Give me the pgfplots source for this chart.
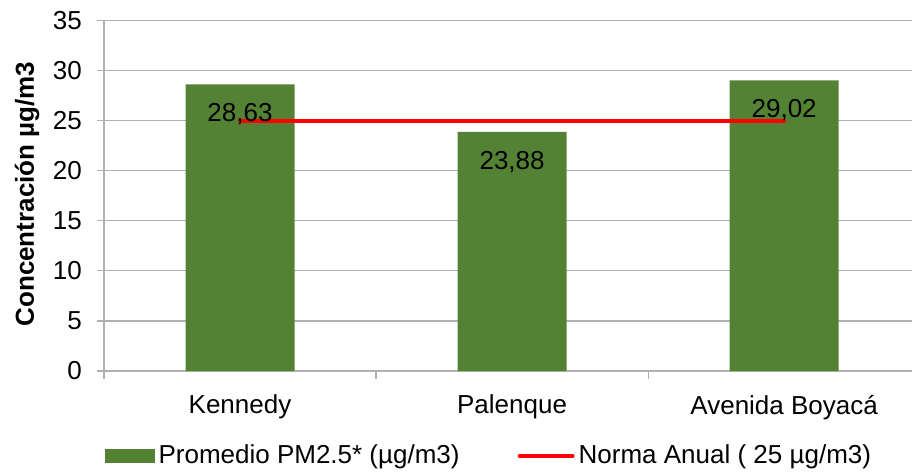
\documentclass[border=0pt]{standalone}
\usepackage{fontspec}
\setmainfont{Liberation Sans}
\usepackage{pgfplots}
\pgfplotsset{compat=1.18}
\definecolor{barGreen}{RGB}{84,130,53}
\definecolor{gridGray}{RGB}{176,176,176}

\begin{document}
\begin{tikzpicture}
\begin{axis}[
    scale only axis,
    width=404pt, height=175.25pt,
    font=\fontsize{13}{15}\selectfont,
    /pgf/number format/assume math mode=true,
    xmin=-0.5, xmax=2.47,
    ymin=0, ymax=35,
    ytick={0,5,...,35},
    xtick={0,1,2},
    xticklabels={Kennedy, Palenque, Avenida Boyacá},
    minor xtick={-0.5,0.5,1.5},
    major x tick style={draw=none},
    tick align=outside,
    major tick length=3.5pt,
    minor tick length=4pt,
    tick style={gridGray, line width=0.6pt},
    axis x line*=bottom,
    axis y line*=left,
    axis line style={gridGray, line width=0.8pt, -},
    ymajorgrids,
    grid style={gridGray, line width=0.6pt},
    yticklabel style={xshift=-4pt},
    xticklabel style={yshift=-5pt},
    ylabel={\bfseries Concentración µg/m3},
    ylabel style={at={(axis description cs:-0.0953,0.505)}, anchor=center},
    legend style={at={(axis description cs:0.4775,-0.2425)}, anchor=center,
        draw=none, fill=none, legend columns=2,
        /tikz/every even column/.append style={column sep=27pt}},
    legend cell align=left,
    clip=false,
]
\addplot[ybar, fill=barGreen, draw=none, bar width=54.5pt,
    nodes near coords, point meta=explicit symbolic,
    every node near coord/.append style={anchor=center, yshift=-15pt, black},
    legend image code/.code={\fill[barGreen] (0pt,-3.5pt) rectangle (25pt,3.5pt);}]
    table[meta=label] {
x y label
0 28.63 28,63
1 23.88 23,88
2 29.02 29,02
};
\addlegendentry{Promedio PM2.5* (µg/m3)}
\addplot[red, line width=2pt, line cap=round,
    legend image code/.code={\draw[red, line width=2pt, line cap=round] (0pt,0pt) -- (26.5pt,0pt);}]
    coordinates {(0,25) (2,25)};
\addlegendentry{Norma Anual ( 25 µg/m3)}
\path (rel axis cs:-0.1287,-0.2825) rectangle (rel axis cs:1.0012,1.0585);
\end{axis}
\end{tikzpicture}
\end{document}
